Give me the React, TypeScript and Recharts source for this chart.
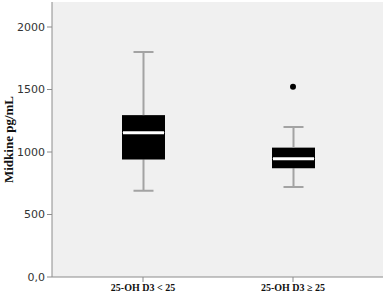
import React from "react";
import {
  ComposedChart,
  Bar,
  Scatter,
  XAxis,
  YAxis,
  CartesianGrid,
} from "recharts";

const groups = ["25-OH D3 < 25", "25-OH D3 \u2265 25"];
const mins = [690, 720];
const q1s = [940, 870];
const medians = [1155, 947];
const q3s = [1295, 1035];
const maxs = [1800, 1200];
const outliers = [null, 1522];
const yTicks = [0, 500, 1000, 1500, 2000];

const data = groups.map((name, i) => ({
  name,
  base: mins[i],
  lowerWhisker: q1s[i] - mins[i],
  lowerBox: medians[i] - q1s[i],
  upperBox: q3s[i] - medians[i],
  upperWhisker: maxs[i] - q3s[i],
  outlier: outliers[i],
}));

const WHISKER = "#a3a3a3";
const FRAME = "#8c8c8c";

const LowerWhisker = (props: any) => {
  const { x, y, width, height } = props;
  const cx = x + width / 2;
  return (
    <g>
      <line x1={cx} x2={cx} y1={y} y2={y + height} stroke={WHISKER} strokeWidth={2} />
      <line x1={cx - 10} x2={cx + 10} y1={y + height} y2={y + height} stroke={WHISKER} strokeWidth={2} />
    </g>
  );
};

const UpperWhisker = (props: any) => {
  const { x, y, width, height } = props;
  const cx = x + width / 2;
  return (
    <g>
      <line x1={cx} x2={cx} y1={y} y2={y + height} stroke={WHISKER} strokeWidth={2} />
      <line x1={cx - 10} x2={cx + 10} y1={y} y2={y} stroke={WHISKER} strokeWidth={2} />
    </g>
  );
};

const LowerBox = (props: any) => {
  const { x, y, width, height } = props;
  return <rect x={x} y={y} width={width} height={height} fill="#000" />;
};

const UpperBox = (props: any) => {
  const { x, y, width, height } = props;
  return (
    <g>
      <rect x={x} y={y} width={width} height={height} fill="#000" />
      <line x1={x + 1} x2={x + width - 1} y1={y + height} y2={y + height} stroke="#fff" strokeWidth={3} />
    </g>
  );
};

const Dot = (props: any) => {
  if (props.payload == null || props.payload.outlier == null) return <g />;
  return <circle cx={props.cx} cy={props.cy} r={3} fill="#000" />;
};

export default function App() {
  return (
    <div style={{ position: "absolute", left: 0, top: 0, background: "#fff" }}>
      <ComposedChart
        width={387}
        height={298}
        data={data}
        margin={{ top: 2, right: 4, bottom: 0, left: 0 }}
        barCategoryGap={0}
      >
        <CartesianGrid horizontal={false} vertical={false} fill="#f0f0f0" stroke="none" />
        <XAxis
          dataKey="name"
          padding={{ left: 16, right: 15 }}
          height={21}
          stroke={FRAME}
          tickSize={5}
          tick={{ fill: "#111", fontSize: 10, fontWeight: "bold", fontFamily: "Liberation Serif" }}
        />
        <XAxis xAxisId="top" orientation="top" dataKey="name" height={0} tick={false} tickLine={false} stroke={FRAME} />
        <YAxis
          domain={[0, 2200]}
          ticks={yTicks}
          width={52}
          stroke={FRAME}
          tickSize={5}
          tickFormatter={(v: number) => (v === 0 ? "0,0" : String(v))}
          tick={{ fill: "#333", fontSize: 11, fontFamily: "DejaVu Sans" }}
          label={{
            value: "Midkine pg/mL",
            angle: -90,
            position: "insideLeft",
            offset: 8,
            style: { fill: "#111", fontSize: 13, fontWeight: "bold", fontFamily: "Liberation Serif", textAnchor: "middle" },
          }}
        />
        <YAxis yAxisId="right" orientation="right" domain={[0, 2200]} width={0} tick={false} tickLine={false} stroke={FRAME} />
        <Bar dataKey="base" stackId="b" barSize={43} fill="none" isAnimationActive={false} />
        <Bar dataKey="lowerWhisker" stackId="b" barSize={43} shape={LowerWhisker} isAnimationActive={false} />
        <Bar dataKey="lowerBox" stackId="b" barSize={43} shape={LowerBox} isAnimationActive={false} />
        <Bar dataKey="upperBox" stackId="b" barSize={43} shape={UpperBox} isAnimationActive={false} />
        <Bar dataKey="upperWhisker" stackId="b" barSize={43} shape={UpperWhisker} isAnimationActive={false} />
        <Scatter dataKey="outlier" shape={Dot} isAnimationActive={false} />
      </ComposedChart>
    </div>
  );
}
